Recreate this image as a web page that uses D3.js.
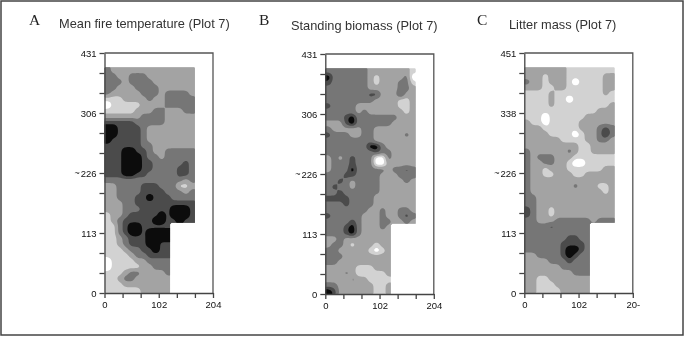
<!DOCTYPE html>
<html>
<head>
<meta charset="utf-8">
<script src="https://cdn.jsdelivr.net/npm/d3@7"></script>
<style>
  html, body { margin: 0; padding: 0; background: #fff; overflow: hidden; }
  svg { display: block; filter: blur(0.6px); }
</style>
</head>
<body>
<div id="main"></div>
<script>
//gray class of each grid cell, top row first
//short rows stop at the notch in the plot outline
const fireRows = [
  [3,2,2,2,2,2,2,2,2,2,2,2,2,2,2],
  [3,3,2,2,3,3,3,2,2,2,2,2,2,2,2],
  [3,3,3,2,3,3,3,3,2,2,2,2,2,2,2],
  [3,3,2,2,2,3,3,3,3,2,2,2,2,2,2],
  [3,2,2,2,2,2,3,3,3,2,3,3,3,3,2],
  [1,1,1,2,2,2,2,3,2,2,3,3,3,3,3],
  [0,1,1,1,1,1,2,2,2,2,3,3,3,3,3],
  [1,1,1,1,1,2,2,2,3,3,2,2,2,3,3],
  [2,2,2,2,2,2,3,3,3,3,2,2,2,2,2],
  [4,4,4,4,4,3,3,3,3,3,2,2,2,2,2],
  [5,5,4,4,4,4,3,2,2,2,2,2,2,2,2],
  [5,5,4,4,4,4,3,2,2,2,2,2,2,2,2],
  [5,4,4,4,4,4,3,2,2,2,2,2,2,2,2],
  [4,4,4,4,4,4,3,3,2,2,2,2,2,2,2],
  [4,4,4,5,5,4,4,3,2,2,3,3,3,3,3],
  [4,4,4,5,5,5,4,3,3,2,3,3,3,3,3],
  [4,4,4,5,5,5,4,4,3,3,3,3,3,4,3],
  [4,4,4,5,5,5,4,4,3,3,3,3,4,4,3],
  [4,4,4,5,5,4,4,3,3,3,3,3,4,4,3],
  [3,3,3,3,3,3,3,3,3,3,3,3,3,2,3],
  [2,2,3,3,3,3,4,4,4,3,3,3,1,1,2],
  [2,2,3,3,3,3,4,4,4,4,3,3,3,2,3],
  [2,2,3,3,3,4,4,5,4,4,4,3,3,3,3],
  [2,2,2,3,3,4,4,4,4,4,4,4,4,4,4],
  [2,2,2,3,3,3,4,4,4,4,4,5,5,5,4],
  [1,2,2,3,4,4,4,4,4,5,4,5,5,5,4],
  [1,2,3,4,4,4,4,4,5,5,4,4,5,4,4],
  [1,1,3,4,5,5,4,4,4,4,4],
  [1,1,3,4,5,5,4,5,5,5,5],
  [1,1,2,3,4,4,4,5,5,5,5],
  [1,1,2,3,4,4,4,5,5,4,4],
  [1,1,1,2,3,3,4,4,5,4,4],
  [1,1,1,1,2,3,3,4,4,4,4],
  [0,1,1,1,1,2,2,3,3,3,3],
  [0,1,1,1,1,1,2,2,3,3,3],
  [1,1,1,2,3,3,2,2,2,2,3],
  [1,1,2,3,3,2,2,2,2,2,2],
  [1,1,1,2,2,2,2,2,2,2,2],
  [1,1,1,1,1,1,2,2,2,2,2]
];
const biomassRows = [
  [3,3,3,3,3,3,3,2,2,2,2,2,2,2,1],
  [5,3,3,3,3,3,3,2,1,2,2,2,2,3,0],
  [4,3,3,3,3,3,3,2,1,2,2,2,3,3,1],
  [3,3,3,3,3,3,3,2,2,2,2,2,3,3,2],
  [3,3,3,3,3,3,3,4,4,2,2,2,4,2,2],
  [3,3,3,3,3,3,3,3,2,2,2,2,1,1,2],
  [4,3,3,3,3,2,2,2,2,2,2,2,1,1,2],
  [3,3,3,3,3,2,3,2,2,2,2,2,2,1,2],
  [3,3,3,4,5,3,3,3,3,3,3,3,2,2,2],
  [2,2,2,4,5,3,3,3,3,3,3,2,2,2,2],
  [3,2,2,2,2,2,3,3,2,2,2,2,2,2,2],
  [4,3,3,3,2,2,3,3,2,2,2,2,2,3,2],
  [3,3,3,3,3,3,3,3,2,2,2,2,2,2,2],
  [3,3,3,3,3,3,3,5,5,3,2,2,2,2,2],
  [3,3,3,3,3,3,3,3,4,3,3,2,2,2,2],
  [2,3,2,3,4,3,3,3,0,0,3,2,2,2,2],
  [2,3,3,3,4,3,3,3,0,0,2,2,2,2,2],
  [2,3,3,3,5,3,3,3,3,3,2,3,3,4,3],
  [3,3,3,4,4,3,3,3,3,2,2,2,3,3,3],
  [3,3,4,3,2,3,3,3,3,2,2,2,2,3,2],
  [3,4,3,3,2,3,3,3,3,2,2,2,2,2,2],
  [3,3,4,3,3,3,3,3,3,2,2,2,2,2,2],
  [4,4,4,4,3,3,3,4,1,2,2,2,2,2,2],
  [3,3,3,4,3,3,3,3,2,2,2,2,2,2,2],
  [3,3,3,3,3,3,3,2,2,3,2,2,3,3,2],
  [4,3,3,3,3,3,2,2,2,3,2,2,3,4,3],
  [3,3,3,3,4,3,2,2,2,3,3,2,2,3,2],
  [3,3,3,4,5,3,2,2,2,3,2],
  [3,3,3,4,5,3,2,2,2,2,2],
  [2,2,3,2,2,2,2,2,2,2,2],
  [2,3,3,2,1,2,2,2,1,2,2],
  [3,3,2,2,2,2,2,1,0,1,2],
  [3,3,3,2,2,2,2,2,2,2,2],
  [3,3,2,2,2,2,2,2,2,2,2],
  [2,2,2,2,2,1,1,1,2,2,2],
  [2,2,2,3,2,1,1,1,1,1,2],
  [2,2,2,1,3,2,2,1,1,1,1],
  [3,3,2,2,2,2,2,2,1,1,2],
  [5,4,2,2,2,2,2,2,1,1,2]
];
const litterRows = [
  [2,2,2,2,2,2,2,1,1,1,1,1,1,1,1],
  [2,2,2,1,2,2,2,1,1,1,1,1,1,2,2],
  [3,2,2,1,2,2,2,1,0,1,1,1,1,2,2],
  [2,2,2,1,1,2,2,1,1,1,1,1,1,2,2],
  [1,1,1,1,2,1,1,1,1,1,1,1,1,2,1],
  [1,1,1,1,2,1,1,0,1,1,1,1,1,1,1],
  [1,1,1,1,2,1,1,1,1,1,1,1,1,1,2],
  [1,1,1,1,1,1,1,1,1,1,1,1,2,2,2],
  [1,1,1,0,1,1,1,1,1,1,2,2,2,2,2],
  [2,1,1,0,1,1,1,1,1,2,2,2,2,2,2],
  [2,2,2,1,1,1,1,1,1,2,2,2,3,4,3],
  [2,2,2,2,1,1,1,1,0,1,2,2,3,5,3],
  [2,2,2,2,2,2,1,1,1,1,2,2,3,3,2],
  [2,2,2,2,2,2,2,2,2,1,1,2,2,2,2],
  [3,2,2,2,2,2,2,3,2,1,1,2,2,2,2],
  [3,2,3,3,3,2,2,2,1,1,1,1,1,1,1],
  [3,2,2,3,3,2,2,1,0,0,1,1,1,1,1],
  [3,2,2,1,2,2,2,1,1,1,1,1,1,2,2],
  [3,2,2,1,1,2,2,2,1,1,2,2,2,2,2],
  [3,2,2,2,2,2,2,2,2,2,2,2,2,2,2],
  [3,2,2,2,2,2,2,2,3,2,2,2,1,1,2],
  [3,2,2,2,2,2,2,2,2,2,2,2,2,1,2],
  [3,3,2,2,2,2,2,2,2,2,2,2,2,2,2],
  [3,3,2,2,2,2,2,2,2,2,2,2,2,2,2],
  [4,3,2,2,1,2,2,2,2,2,2,2,2,2,2],
  [4,3,2,2,1,2,2,2,2,2,2,2,2,2,2],
  [3,3,2,2,2,3,3,3,3,3,3,2,3,3,3],
  [3,3,3,3,4,3,3,3,3,3,3],
  [3,3,3,3,3,3,3,3,3,3,3],
  [3,3,3,3,3,3,3,4,4,3,3],
  [3,3,3,3,3,3,4,4,4,4,3],
  [3,3,3,3,3,3,4,5,5,4,3],
  [2,2,3,3,3,3,4,5,4,3,3],
  [2,2,2,2,3,3,3,4,3,3,3],
  [2,2,2,2,2,2,3,3,3,3,3],
  [2,2,2,2,2,2,2,2,3,3,3],
  [2,2,1,1,2,2,2,2,2,2,2],
  [2,2,1,1,1,2,2,2,2,2,2],
  [2,2,1,1,1,1,2,2,2,2,2]
];

//tick labels
const xTicksA = ["0", "102", "204"];
const xTicksC = ["0", "102", "20-"];
const yTicksA = ["0", "113", "226", "306", "431"];
const yTicksC = ["0", "113", "226", "338", "451"];
const titles = ["Mean fire temperature (Plot 7)", "Standing biomass (Plot 7)", "Litter mass (Plot 7)"];
const letters = ["A", "B", "C"];

//heigth width and plot size
const width = 685;
const height = 337;
const plotW = 108.5;
const plotH = 240;
const gridCols = 15;
const gridRows = 39;
const gridW = 170;   //metres covered by the grid
const gridH = 425;
const fine = 4;      //sub cells per grid cell, rounds the contour outlines

//gray classes, lightest first. first and last step are nudged so small spots survive
const grays = ["#ffffff", "#d2d2d2", "#a3a3a3", "#767676", "#4b4b4b", "#0c0c0c"];
const levels = [-0.5, 0.7, 1.5, 2.5, 3.5, 4.3];

const svg = d3.select('#main')
              .append('svg')
              .attr('width', width)
              .attr('height', height);

svg.append('rect')
   .attr('x', 1).attr('y', 1)
   .attr('width', 682).attr('height', 334)
   .attr('fill', 'none')
   .attr('stroke', '#444')
   .attr('stroke-width', 1.5);

//helper: repeat each cell, soften it, then punch the notch back out
function soften(rows){
  const w = gridCols * fine, h = gridRows * fine;
  const data = new Float64Array(w * h);
  for (let y = 0; y < h; y++) {
    const row = rows[Math.floor(y / fine)];
    for (let x = 0; x < w; x++) {
      data[y * w + x] = row[Math.min(Math.floor(x / fine), row.length - 1)];
    }
  }
  d3.blur2({data: data, width: w, height: h}, 1.1);
  const out = Array.from(data);
  for (let y = 0; y < h; y++) {
    const row = rows[Math.floor(y / fine)];
    for (let x = row.length * fine; x < w; x++) out[y * w + x] = null;
  }
  return out;
}

//function to draw one contour panel
const render = (rows, xTicks, yTicks, p) => {
  const xScale = d3.scaleLinear().domain([0, 204]).range([0, plotW]);
  const yScale = d3.scaleLinear().domain([0, 452]).range([plotH, 0]);

  const g = svg.append('g').attr('transform', `translate(${p.x},${p.y})`);

  const contours = d3.contours()
    .size([gridCols * fine, gridRows * fine])
    .thresholds(levels)(soften(rows));
  const path = d3.geoPath(d3.geoTransform({
    point: function(x, y) {
      this.stream.point(xScale(x / fine * gridW / gridCols), yScale(gridH - y / fine * gridH / gridRows));
    }
  }));

  g.selectAll('.band').data(contours).enter()
   .append('path').attr('class', 'band')
   .attr('d', path)
   .attr('fill', (d, i) => grays[i]);

  //top and right side of the box
  g.append('path')
   .attr('d', `M0,0H${plotW}V${plotH}`)
   .attr('fill', 'none')
   .attr('stroke', '#555')
   .attr('stroke-width', 1.3);

  //ticks every third one labelled
  const xAxis = d3.axisBottom(xScale)
    .tickValues(d3.range(0, 205, 34))
    .tickSize(5).tickSizeOuter(0)
    .tickFormat((d, i) => i % 3 == 0 ? xTicks[i / 3] : "");
  const yAxis = d3.axisLeft(yScale)
    .tickValues(d3.range(13).map(i => i * 452 / 12))
    .tickSize(5).tickSizeOuter(0)
    .tickFormat((d, i) => i % 3 == 0 ? yTicks[i / 3] : "");

  [g.append('g').attr('transform', `translate(0,${plotH})`).call(xAxis),
   g.append('g').call(yAxis)].forEach(a => {
    a.selectAll('path, line').attr('stroke', '#444').attr('stroke-width', 1.3);
    a.selectAll('text')
     .attr('font-family', 'Liberation Sans')
     .attr('font-size', 9.5)
     .attr('fill', '#111');
  });

  //squashed axis name next to the middle label
  g.append('text')
   .attr('x', -30).attr('y', plotH / 2 + 3)
   .attr('font-family', 'Liberation Sans')
   .attr('font-size', 9)
   .attr('fill', '#222')
   .text('~');

  svg.append('text')
     .attr('x', p.letterX).attr('y', 25)
     .attr('font-family', 'Liberation Serif')
     .attr('font-size', 15.5)
     .attr('fill', '#222')
     .text(p.letter);

  svg.append('text')
     .attr('x', p.titleX).attr('y', p.titleY)
     .attr('font-family', 'Liberation Sans')
     .attr('font-size', 12.8)
     .attr('fill', '#333')
     .text(p.title);
};

render(fireRows, xTicksA, yTicksA, {x: 104.5, y: 53, letter: letters[0], letterX: 29, title: titles[0], titleX: 59, titleY: 28});
render(biomassRows, xTicksA, yTicksA, {x: 325.3, y: 54, letter: letters[1], letterX: 259, title: titles[1], titleX: 291, titleY: 30});
render(litterRows, xTicksC, yTicksC, {x: 524.3, y: 53, letter: letters[2], letterX: 477, title: titles[2], titleX: 509, titleY: 29});
</script>
</body>
</html>
